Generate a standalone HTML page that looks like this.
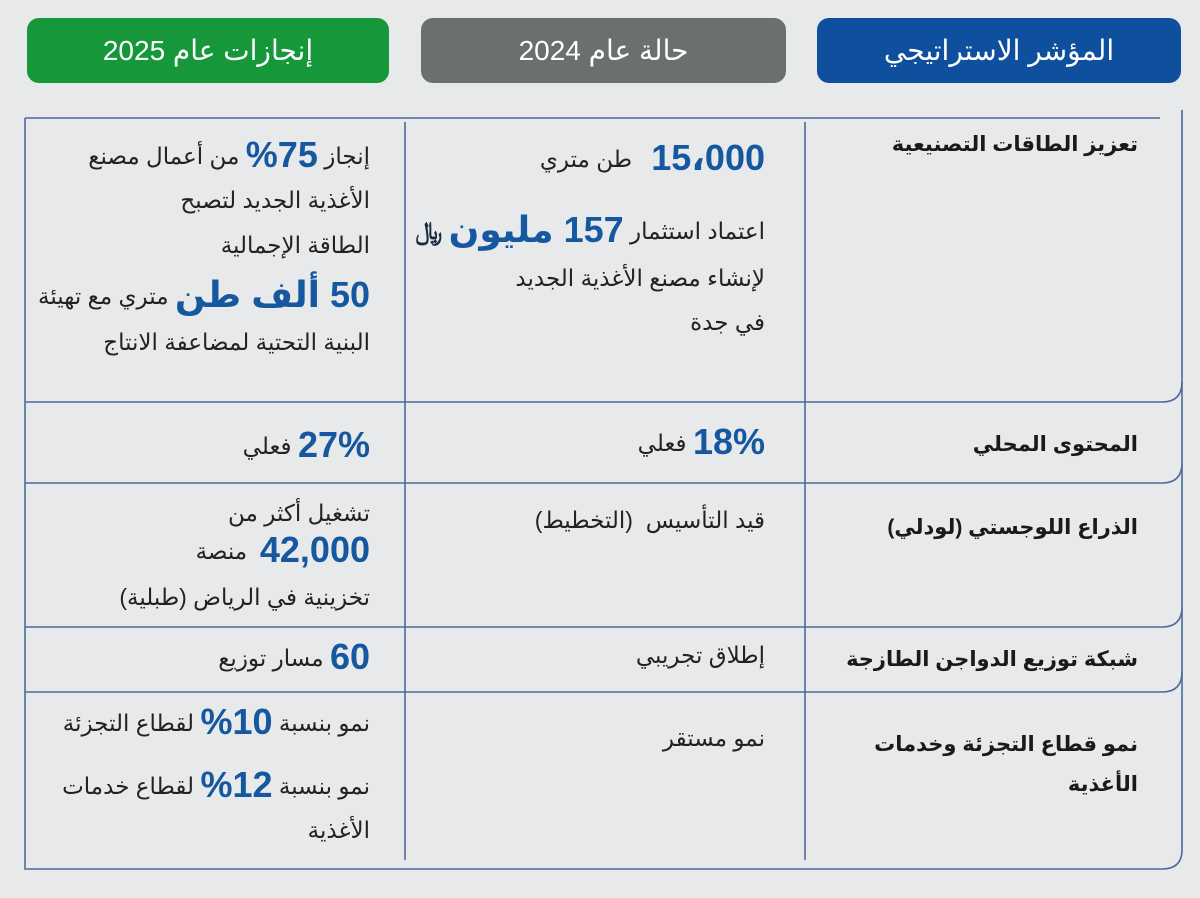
<!DOCTYPE html>
<html lang="ar"><head><meta charset="utf-8">
<style>
html,body{margin:0;padding:0}
body{width:1200px;height:898px;background:#e8e9eb;position:relative;overflow:hidden;font-family:"Liberation Sans","Noto Sans CJK SC","DejaVu Sans",sans-serif;color:#222}
.hdr{position:absolute;top:18px;height:65px;border-radius:12px;color:#fff;font-size:28px;display:flex;align-items:center;justify-content:center;direction:rtl}
.t{position:absolute;direction:rtl;text-align:right;white-space:nowrap;line-height:40px;height:40px;font-size:23px}
.b{color:#1558a0;font-weight:bold;font-size:36px;vertical-align:-3px}
.h{font-weight:bold;font-size:21px;color:#1a1a1a}
.rs{color:#1a2a40;font-size:24px;font-weight:bold}
</style></head><body>
<div class="hdr" style="left:27px;width:362px;background:#16983a">إنجازات عام 2025</div>
<div class="hdr" style="left:421px;width:365px;background:#6a706e">حالة عام 2024</div>
<div class="hdr" style="left:817px;width:364px;background:#0e4f9e">المؤشر الاستراتيجي</div>

<svg width="1200" height="898" style="position:absolute;left:0;top:0">
<g stroke="#4a6a9c" stroke-width="1.6" fill="none">
<path d="M25 118 H1160"/>
<path d="M1182 110 V850 Q1182 869 1162 869 H25 V118"/>
<path d="M25 402 H1162 Q1182 402 1182 382"/>
<path d="M25 483 H1162 Q1182 483 1182 463"/>
<path d="M25 627 H1162 Q1182 627 1182 607"/>
<path d="M25 692 H1162 Q1182 692 1182 672"/>
<path d="M405 122 V860"/>
<path d="M805 122 V860"/>
</g></svg>

<!-- column 3 -->
<div class="t h" style="right:62px;top:125px">تعزيز الطاقات التصنيعية</div>
<div class="t h" style="right:62px;top:425px">المحتوى المحلي</div>
<div class="t h" style="right:62px;top:508px">الذراع اللوجستي (لودلي)</div>
<div class="t h" style="right:62px;top:640px">شبكة توزيع الدواجن الطازجة</div>
<div class="t h" style="right:62px;top:725px;letter-spacing:1px">نمو قطاع التجزئة وخدمات</div>
<div class="t h" style="right:62px;top:765px;letter-spacing:1px">الأغذية</div>

<!-- column 2 -->
<div class="t" style="right:435px;top:138px"><span class="b">15،000</span>&nbsp;&nbsp; طن متري</div>
<div class="t" style="right:435px;top:210px">اعتماد استثمار <span class="b">157 مليون</span> <span class="rs">﷼</span></div>
<div class="t" style="right:435px;top:258px">لإنشاء مصنع الأغذية الجديد</div>
<div class="t" style="right:435px;top:302px">في جدة</div>
<div class="t" style="right:435px;top:422px"><span class="b">18%</span> فعلي</div>
<div class="t" style="right:435px;top:500px">قيد التأسيس&nbsp; (التخطيط)</div>
<div class="t" style="right:435px;top:635px">إطلاق تجريبي</div>
<div class="t" style="right:435px;top:718px">نمو مستقر</div>

<!-- column 1 -->
<div class="t" style="right:830px;top:135px">إنجاز <span class="b">75%</span> من أعمال مصنع</div>
<div class="t" style="right:830px;top:180px">الأغذية الجديد لتصبح</div>
<div class="t" style="right:830px;top:225px">الطاقة الإجمالية</div>
<div class="t" style="right:830px;top:275px"><span class="b">50 ألف طن</span> متري مع تهيئة</div>
<div class="t" style="right:830px;top:322px">البنية التحتية لمضاعفة الانتاج</div>
<div class="t" style="right:830px;top:425px"><span class="b">27%</span> فعلي</div>
<div class="t" style="right:830px;top:493px">تشغيل أكثر من</div>
<div class="t" style="right:830px;top:530px"><span class="b">42,000</span>&nbsp; منصة</div>
<div class="t" style="right:830px;top:577px">تخزينية في الرياض (طبلية)</div>
<div class="t" style="right:830px;top:637px"><span class="b">60</span> مسار توزيع</div>
<div class="t" style="right:830px;top:702px">نمو بنسبة <span class="b">10%</span> لقطاع التجزئة</div>
<div class="t" style="right:830px;top:765px">نمو بنسبة <span class="b">12%</span> لقطاع خدمات</div>
<div class="t" style="right:830px;top:810px">الأغذية</div>
</body></html>
